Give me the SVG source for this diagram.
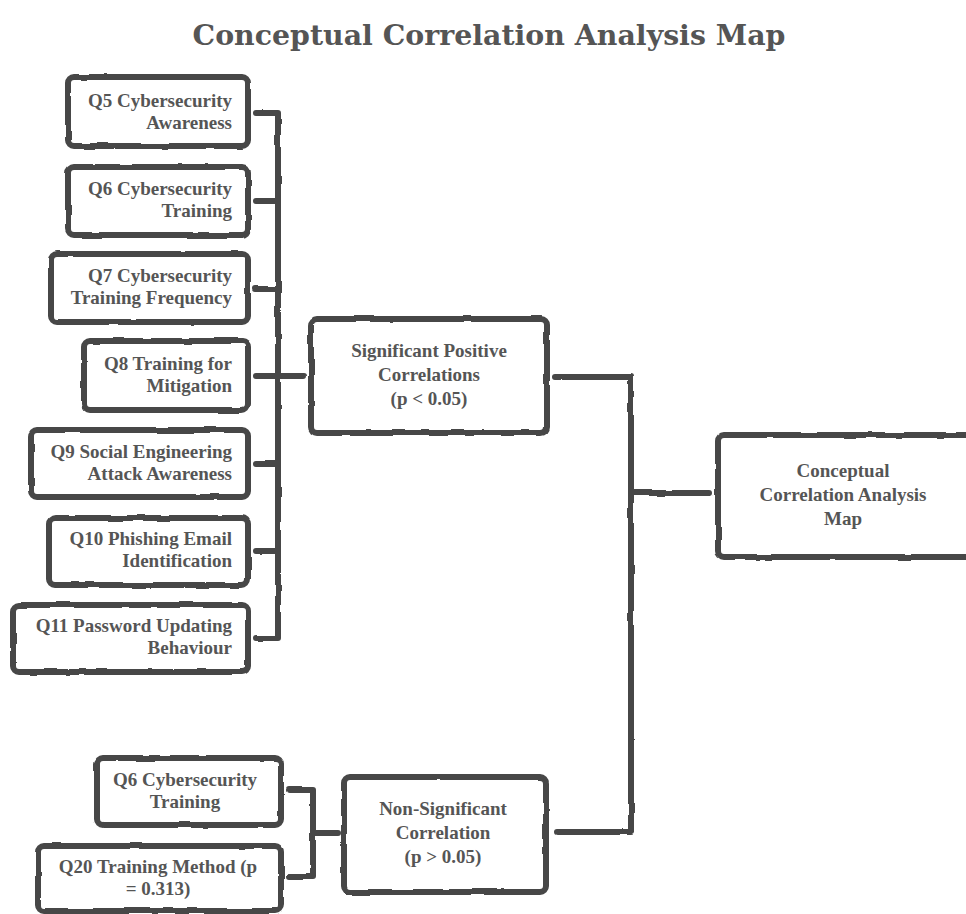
<svg xmlns="http://www.w3.org/2000/svg" width="966" height="914" viewBox="0 0 966 914">
<defs>
<filter id="rough" x="-5%" y="-5%" width="110%" height="110%">
<feTurbulence type="fractalNoise" baseFrequency="0.04" numOctaves="2" seed="3" result="n"/>
<feDisplacementMap in="SourceGraphic" in2="n" scale="3" xChannelSelector="R" yChannelSelector="G"/>
</filter>
</defs>
<style>
.box{fill:#fff;stroke:#464646;stroke-width:6;stroke-linejoin:round;filter:url(#rough)}
.ln{fill:none;stroke:#464646;stroke-width:6;stroke-linecap:round;stroke-linejoin:round}
.t{font-family:'Liberation Serif',serif;font-weight:700;font-size:19px;fill:#555}
.r{text-anchor:end}
.c{text-anchor:middle}
.title{font-family:'DejaVu Serif',serif;font-weight:bold;font-size:28.4px;fill:#555;text-anchor:middle}
</style>
<rect width="966" height="914" fill="#fff"/>
<text class="title" x="489" y="45">Conceptual Correlation Analysis Map</text>
<g id="connectors" filter="url(#rough)">
<path class="ln" d="M256 113 H278 M256 201 H278 M256 289 H278 M256 376 H278 M256 464 H278 M256 551 H278 M256 638 H278 M278 113 V638 M278 376 H303"/>
<path class="ln" d="M555 377 H631 V832 H557 M631 493 H710"/>
<path class="ln" d="M289 790 H313 V877 H289 M313 833 H338"/>
</g>
<g id="q5"><rect class="box" x="68" y="77" width="180" height="69" rx="6"/><text class="t r" x="232" y="107">Q5 Cybersecurity</text><text class="t r" x="232" y="129">Awareness</text></g>
<g id="q6"><rect class="box" x="68" y="167" width="180" height="68" rx="6"/><text class="t r" x="232" y="195">Q6 Cybersecurity</text><text class="t r" x="232" y="217">Training</text></g>
<g id="q7"><rect class="box" x="51" y="254" width="197" height="68" rx="6"/><text class="t r" x="232" y="282">Q7 Cybersecurity</text><text class="t r" x="232" y="304">Training Frequency</text></g>
<g id="q8"><rect class="box" x="84" y="341" width="164" height="69" rx="6"/><text class="t r" x="232" y="370">Q8 Training for</text><text class="t r" x="232" y="392">Mitigation</text></g>
<g id="q9"><rect class="box" x="31" y="430" width="217" height="67" rx="6"/><text class="t r" x="232" y="458">Q9 Social Engineering</text><text class="t r" x="232" y="480">Attack Awareness</text></g>
<g id="q10"><rect class="box" x="49" y="518" width="199" height="67" rx="6"/><text class="t r" x="232" y="545">Q10 Phishing Email</text><text class="t r" x="232" y="567">Identification</text></g>
<g id="q11"><rect class="box" x="13" y="605" width="235" height="67" rx="6"/><text class="t r" x="232" y="632">Q11 Password Updating</text><text class="t r" x="232" y="654">Behaviour</text></g>
<g id="sig"><rect class="box" x="311" y="319" width="236" height="114" rx="6"/><text class="t c" x="429" y="357">Significant Positive</text><text class="t c" x="429" y="381">Correlations</text><text class="t c" x="429" y="405">(p &lt; 0.05)</text></g>
<g id="map"><rect class="box" x="718" y="435" width="260" height="122" rx="6"/><text class="t c" x="843" y="477">Conceptual</text><text class="t c" x="843" y="501">Correlation Analysis</text><text class="t c" x="843" y="525">Map</text></g>
<g id="q6b"><rect class="box" x="97" y="758" width="184" height="67" rx="6"/><text class="t c" x="185" y="786">Q6 Cybersecurity</text><text class="t c" x="185" y="808">Training</text></g>
<g id="q20"><rect class="box" x="38" y="846" width="243" height="65" rx="6"/><text class="t c" x="158" y="873">Q20 Training Method (p</text><text class="t c" x="158" y="895">= 0.313)</text></g>
<g id="nonsig"><rect class="box" x="344" y="777" width="202" height="115" rx="6"/><text class="t c" x="443" y="815">Non-Significant</text><text class="t c" x="443" y="839">Correlation</text><text class="t c" x="443" y="863">(p &gt; 0.05)</text></g>
</svg>
